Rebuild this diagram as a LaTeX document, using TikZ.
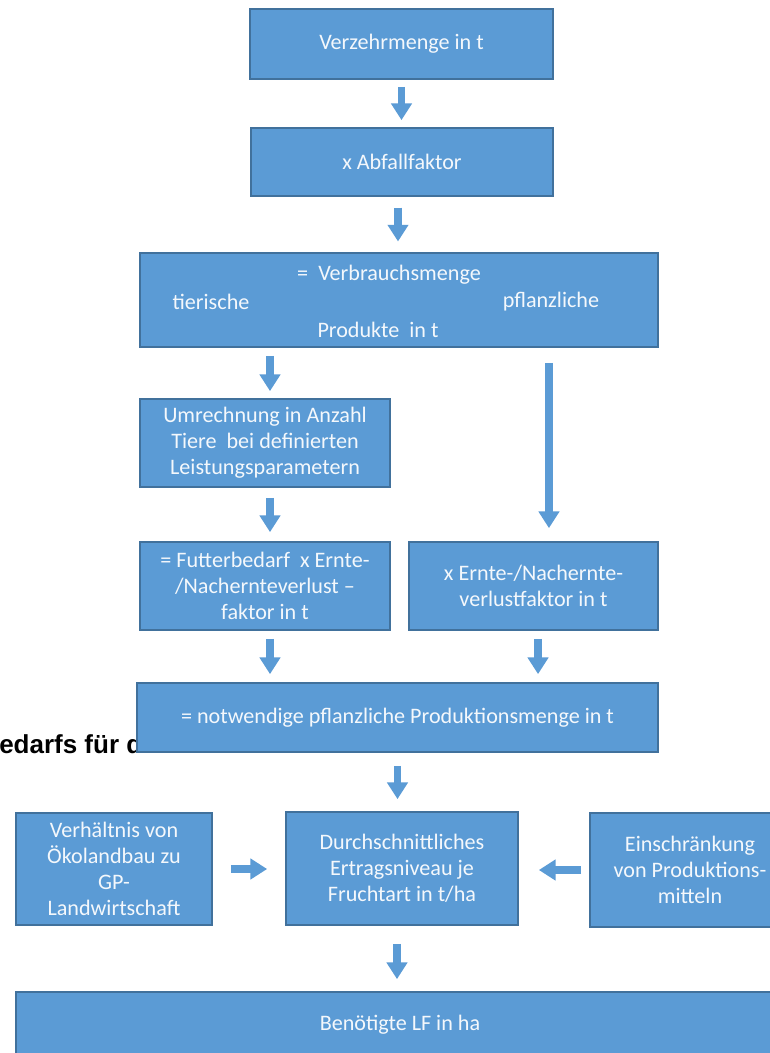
\documentclass[tikz,border=0pt]{standalone}
\usepackage{fontspec}
\setmainfont{Carlito}
\newfontfamily\arialfont{Liberation Sans}
\usetikzlibrary{arrows.meta}
\definecolor{boxfill}{HTML}{5B9BD5}
\definecolor{boxline}{HTML}{41719C}
\definecolor{boxtext}{HTML}{F4F8FC}
\begin{document}
\begin{tikzpicture}[x=0.75pt,y=-0.75pt,
  box/.style={draw=boxline, fill=boxfill, line width=1.3pt, text=boxtext, align=center,
    inner sep=0pt, font=\fontsize{16.6}{19.5}\selectfont},
  lbl/.style={text=boxtext, inner sep=0pt, font=\fontsize{16.6}{19.5}\selectfont},
  arr/.style={draw=boxfill, line width=5.4pt, -{Triangle[width=15pt,length=12.5pt]}}
]
\useasboundingbox (0,0) rectangle (770,1053);
\clip (0,0) rectangle (770,1053);
\fill[white] (0,0) rectangle (770,1053);

% partly hidden background heading
\node[anchor=base west, inner sep=0pt, font=\arialfont\bfseries\fontsize{19.5}{23}\selectfont] (bg) at (-1,753) {edarfs für d};

\node[box, minimum width=0.75pt*303, minimum height=0.75pt*70] (b1) at (401.5,44) {Verzehrmenge in t};
\node[box, minimum width=0.75pt*302, minimum height=0.75pt*68] (b2) at (402,162) {x Abfallfaktor};
\node[box, minimum width=0.75pt*518, minimum height=0.75pt*94] (b3) at (399,300) {};
\node[lbl] (t3a) at (389,275) {=\ \ Verbrauchsmenge};
\node[lbl] (t3b) at (211,302) {tierische};
\node[lbl] (t3c) at (551,302) {pflanzliche};
\node[lbl] (t3d) at (378,330) {Produkte\ \ in t};
\node[box, minimum width=0.75pt*250, minimum height=0.75pt*88] (b4) at (265,443) {Umrechnung in Anzahl\\Tiere\ \ bei definierten\\Leistungsparametern};
\node[box, minimum width=0.75pt*250, minimum height=0.75pt*88] (b5) at (265,586) {= Futterbedarf\ \ x Ernte-\\/Nachernteverlust --\\faktor in t};
\node[box, minimum width=0.75pt*249, minimum height=0.75pt*88] (b6) at (533.5,586) {x Ernte-/Nachernte-\\verlustfaktor in t};
\node[box, minimum width=0.75pt*521, minimum height=0.75pt*69] (b7) at (397.5,717.5) {= notwendige pflanzliche Produktionsmenge in t};
\node[box, minimum width=0.75pt*196, minimum height=0.75pt*112] (b8) at (114,869) {Verhältnis von\\Ökolandbau zu\\GP-\\Landwirtschaft};
\node[box, minimum width=0.75pt*232, minimum height=0.75pt*113] (b9) at (402,868.5) {Durchschnittliches\\Ertragsniveau je\\Fruchtart in t/ha};
\node[box, minimum width=0.75pt*200, minimum height=0.75pt*114] (b10) at (690,870) {Einschränkung\\von Produktions-\\mitteln};
\node[box, minimum width=0.75pt*768, minimum height=0.75pt*66] (b11) at (400,1025) {Benötigte LF in ha};

% connectors
\draw[arr, shorten <=5.25pt, shorten >=5.25pt] (b1.south) -- (b2.north -| b1.south);
\draw[arr, shorten <=8pt, shorten >=8pt] ([xshift=-3pt]b2.south) -- ([xshift=-3pt]b3.north -| b2.south);
\draw[arr, shorten <=6pt, shorten >=5.25pt] ([xshift=3.75pt]b4.north |- b3.south) -- ([xshift=3.75pt]b4.north);
\draw[arr, shorten <=11.25pt, shorten >=9.75pt] ([xshift=11.6pt]b6.north |- b3.south) -- ([xshift=11.6pt]b6.north);
\draw[arr, shorten <=7.5pt, shorten >=6.75pt] ([xshift=3.75pt]b4.south) -- ([xshift=3.75pt]b5.north);
\draw[arr, shorten <=6pt, shorten >=6pt] ([xshift=3.75pt]b5.south) -- ([xshift=3.75pt]b7.north -| b5.south);
\draw[arr, shorten <=6pt, shorten >=6pt] ([xshift=3.4pt]b6.south) -- ([xshift=3.4pt]b7.north -| b6.south);
\draw[arr, shorten <=9.75pt, shorten >=9pt] (b7.south) -- (b9.north -| b7.south);
\draw[arr, shorten <=13.5pt, shorten >=13.5pt] (b8.east) -- (b9.west |- b8.east);
\draw[arr, shorten <=6pt, shorten >=15pt] (b10.west) -- (b9.east |- b10.west);
\draw[arr, shorten <=13.5pt, shorten >=9pt] ([xshift=-3.75pt]b9.south) -- ([xshift=-3.75pt]b11.north -| b9.south);
\end{tikzpicture}
\end{document}
